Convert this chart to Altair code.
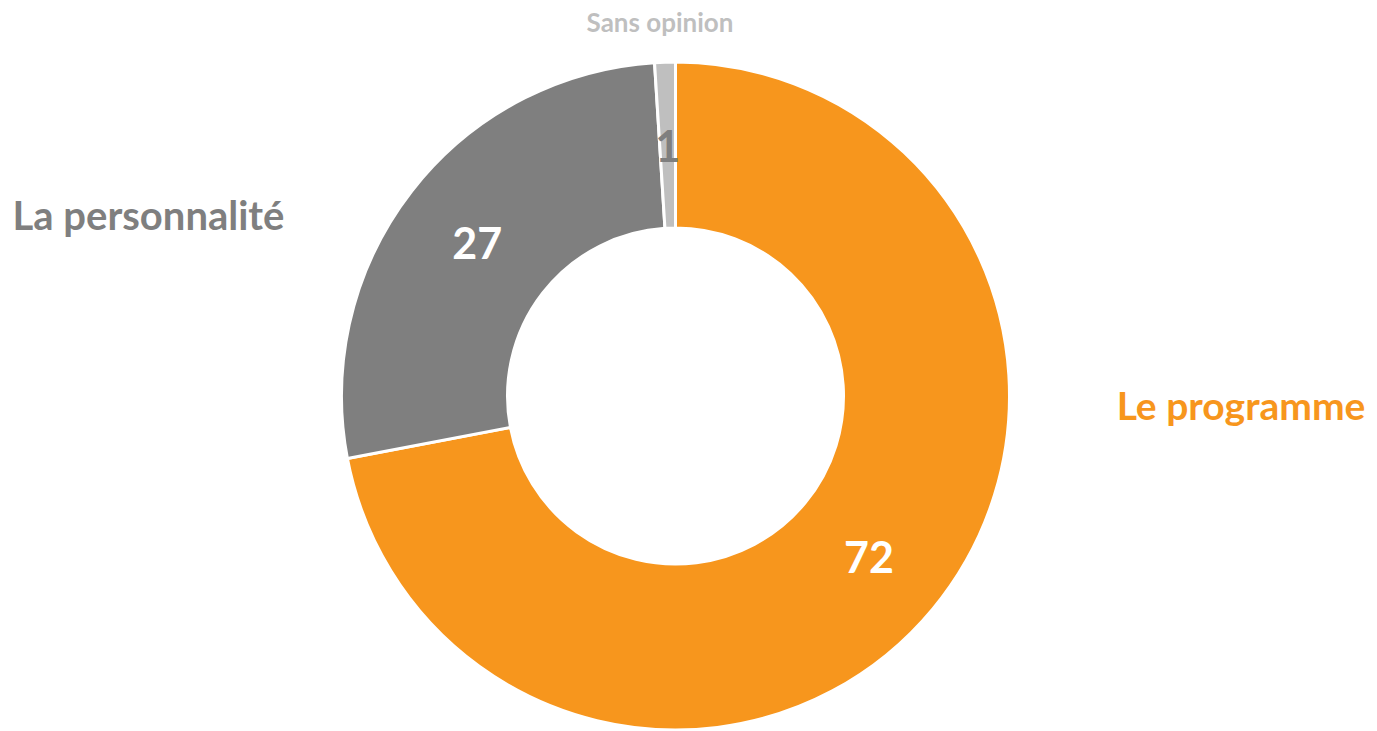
import altair as alt
import pandas as pd

categories = ["Le programme", "La personnalité", "Sans opinion"]
values = [72, 27, 1]
colors = ["#F7961D", "#7F7F7F", "#BFBFBF"]
value_label_colors = ["#FFFFFF", "#FFFFFF", "#7F7F7F"]
order = [0, 1, 2]

df = pd.DataFrame({"cat": categories, "val": values, "ord": order,
                   "lab": [str(v) for v in values], "lc": value_label_colors})

W, H = 1361, 723
CX, CY = 667.5, 388
R_IN, R_OUT = 168, 334

base = alt.Chart(df).encode(
    theta=alt.Theta("val:Q", stack=True),
    order=alt.Order("ord:Q"),
)

arcs = base.mark_arc(innerRadius=R_IN, outerRadius=R_OUT, stroke="white", strokeWidth=3).encode(
    x=alt.value(CX), y=alt.value(CY),
    color=alt.Color("cat:N", scale=alt.Scale(domain=categories, range=colors), legend=None),
)

vals = base.mark_text(font="Lato", fontWeight="bold", fontSize=43, baseline="middle", align="center",
                      radius=(R_IN + R_OUT) / 2, dy=4).encode(
    x=alt.value(CX), y=alt.value(CY),
    text="lab:N",
    color=alt.Color("lc:N", scale=None),
)

def lbl(text, color, x, y, size):
    return alt.Chart(pd.DataFrame({"t": [text]})).mark_text(
        font="Lato", fontWeight="bold", fontSize=size, color=color, align="center", baseline="middle"
    ).encode(text="t:N", x=alt.value(x), y=alt.value(y))

labels = (
    lbl(categories[0], colors[0], 1233, 400, 39)
    + lbl(categories[1], colors[1], 140.5, 210, 40)
    + lbl(categories[2], colors[2], 652, 16, 26)
)

chart = (arcs + vals + labels).properties(
    width=W, height=H, autosize=alt.AutoSizeParams(type="none"), padding=0
).configure_view(stroke=None)

chart.save("out.html", embed_options={"renderer": "svg", "actions": False})
